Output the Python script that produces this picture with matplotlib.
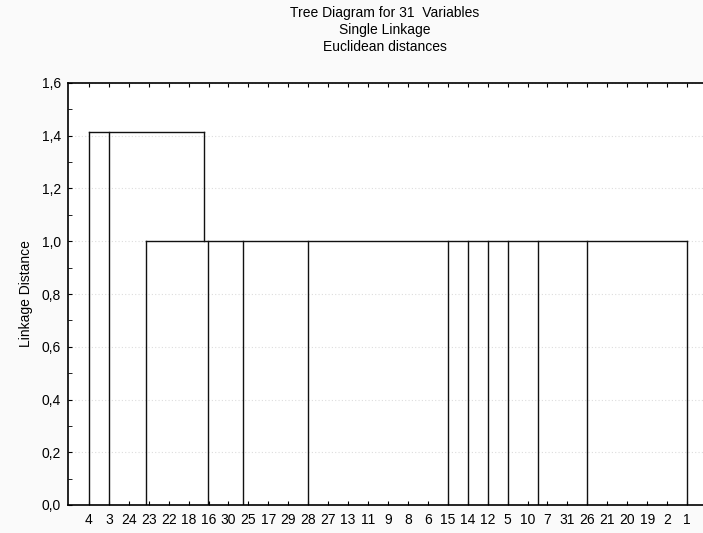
import matplotlib
matplotlib.use('Agg')
import matplotlib.pyplot as plt
from matplotlib.ticker import MultipleLocator, FuncFormatter

# leaf order along the x axis
leaf_labels = ['4', '3', '24', '23', '22', '18', '16', '30', '25', '17', '29',
               '28', '27', '13', '11', '9', '8', '6', '15', '14', '12', '5',
               '10', '7', '31', '26', '21', '20', '19', '2', '1']

# merge heights
top_height = 1.414
mid_height = 1.0

# verticals reaching the top merge: x position (leaf units), base height
top_x = [0, 1, 5.78]
top_base = [0.0, 0.0, 1.0]

# verticals reaching the 1.0 merge (from 0)
mid_x = [2.86, 5.99, 7.74, 10.97, 18.01, 19.02, 20.02, 21.02, 22.5, 24.99, 30.0]

plt.rcParams['font.family'] = ['Liberation Sans', 'DejaVu Sans']

fig = plt.figure(figsize=(7.03, 5.33), dpi=100, facecolor='#fafafa')
ax = fig.add_axes([68 / 703, 1 - 505 / 533, 636 / 703, 422 / 533])
ax.set_facecolor('white')

lc = '#111111'
for x, b in zip(top_x, top_base):
    ax.plot([x, x], [b, top_height], color=lc, lw=1.0)
ax.plot([min(top_x), max(top_x)], [top_height, top_height], color=lc, lw=1.0)

for x in mid_x:
    ax.plot([x, x], [0, mid_height], color=lc, lw=1.0)
ax.plot([min(mid_x), max(mid_x)], [mid_height, mid_height], color=lc, lw=1.0)

ax.set_xlim(-1.05, 30.85)
ax.set_ylim(0, 1.6)

fs = 10
ax.set_xticks(range(len(leaf_labels)))
ax.set_xticklabels(leaf_labels, fontsize=fs)
ax.tick_params(axis='x', direction='in', length=3, top=True, bottom=True, pad=6)
ax.yaxis.set_major_locator(MultipleLocator(0.2))
ax.yaxis.set_minor_locator(MultipleLocator(0.1))
ax.yaxis.set_major_formatter(FuncFormatter(lambda v, p: f'{v:.1f}'.replace('.', ',')))
ax.tick_params(axis='y', which='both', direction='in', length=3, labelsize=fs, pad=5)
ax.grid(axis='y', which='major', linestyle=(0, (1, 2)), color='#dddddd', lw=0.8)
ax.set_axisbelow(True)
ax.spines['right'].set_visible(False)
for s in ['left', 'top', 'bottom']:
    ax.spines[s].set_linewidth(1.2)

ax.set_ylabel('Linkage Distance', fontsize=fs, labelpad=6)

fig.text(385 / 703, 1 - 13 / 533, 'Tree Diagram for 31  Variables', ha='center', va='center', fontsize=fs)
fig.text(385 / 703, 1 - 30 / 533, 'Single Linkage', ha='center', va='center', fontsize=fs)
fig.text(385 / 703, 1 - 47 / 533, 'Euclidean distances', ha='center', va='center', fontsize=fs)

fig.savefig('out.png', dpi=100, facecolor=fig.get_facecolor())
